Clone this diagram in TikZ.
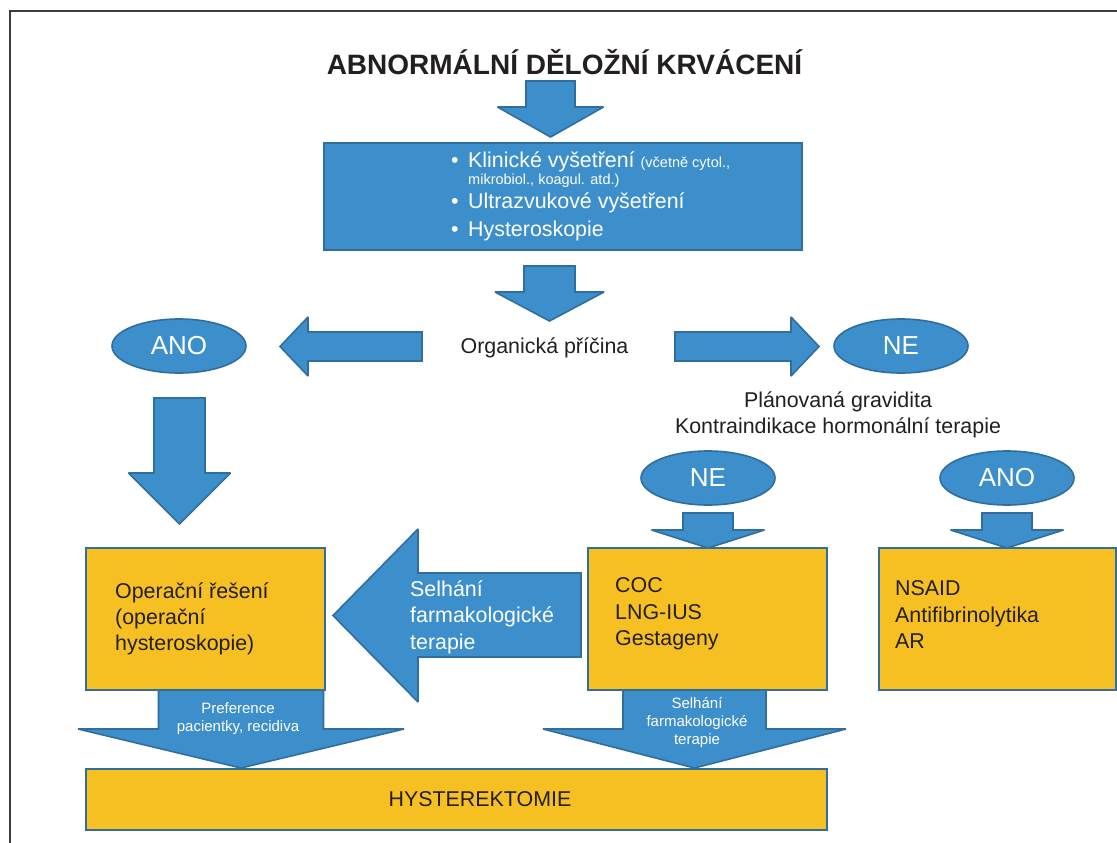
\documentclass[tikz,border=0pt]{standalone}
\usepackage{fontspec}
\setmainfont{Liberation Sans}
\usetikzlibrary{shapes.geometric}
\definecolor{bfill}{HTML}{3D8FCB}
\definecolor{bline}{HTML}{2F6E9E}
\definecolor{yfill}{HTML}{F6C022}
\definecolor{ink}{HTML}{231F20}
\definecolor{framec}{HTML}{3C3C3C}
\newcommand{\myfs}[2]{\fontsize{#1}{#2}\selectfont}
\newcommand{\blkdown}[6]{% cx, top, heady, tipy, shafthalf, headhalf
  \draw[blockarrow] ({#1-#5},#2) -- ({#1+#5},#2) -- ({#1+#5},#3) -- ({#1+#6},#3)
    -- (#1,#4) -- ({#1-#6},#3) -- ({#1-#5},#3) -- cycle;}
\begin{document}
\begin{tikzpicture}[x=1pt,y=-1pt,
  blockarrow/.style={fill=bfill,draw=bline,line width=1.6pt,line join=miter,miter limit=2},
  bluebox/.style={rectangle,fill=bfill,draw=bline,line width=2pt,inner sep=0pt},
  yellowbox/.style={rectangle,fill=yfill,draw=bline,line width=2pt,inner sep=0pt},
  oval/.style={ellipse,fill=bfill,draw=bline,line width=1.6pt,minimum width=134pt,
    minimum height=54pt,inner sep=0pt,text=white,font=\myfs{26}{30}},
  lbl/.style={text=ink,font=\myfs{21.4}{26},inner sep=0pt},
  wlbl/.style={text=white,font=\myfs{21.4}{26},inner sep=0pt},
  slbl/.style={text=white,font=\myfs{15}{18},inner sep=0pt}]
\useasboundingbox (0,0) rectangle (1117,843);
\fill[white] (0,0) rectangle (1117,843);
% frame
\draw[framec,line width=2pt] (10,843) -- (10,11) -- (1117,11);

% block arrows
\blkdown{550.5}{81}{107}{137}{24.5}{53}
\blkdown{549.5}{266}{292}{321}{25.5}{54.5}
\blkdown{179.5}{398}{473}{524}{25.5}{51}
\blkdown{708}{513}{530}{548}{25}{56.5}
\blkdown{1007}{513}{530}{548}{25}{56.5}
\blkdown{241}{690}{729}{768}{82.5}{163}
\blkdown{694.5}{690}{729}{768}{71.5}{151.5}
\draw[blockarrow] (422,332) -- (308,332) -- (308,317) -- (280,346.5) -- (308,376) -- (308,361) -- (422,361) -- cycle;
\draw[blockarrow] (675,332) -- (791,332) -- (791,317) -- (819,346.5) -- (791,376) -- (791,361) -- (675,361) -- cycle;
\draw[blockarrow] (581,573) -- (418,573) -- (418,529) -- (333,615.5) -- (418,702) -- (418,657) -- (581,657) -- cycle;

% title
\node[text=ink,font=\myfs{28}{34}\bfseries,inner sep=0pt,anchor=base] (title) at (564.5,75) {ABNORMÁLNÍ DĚLOŽNÍ KRVÁCENÍ};

% examination box
\node[bluebox,minimum width=478pt,minimum height=107pt] (exam) at (563,196.5) {};
\node[wlbl,anchor=base west] (ex1) at (451,167) {\makebox[17pt][l]{•}Klinické vyšetření {\myfs{14.5}{17}(včetně cytol.,}};
\node[wlbl,anchor=base west,font=\myfs{14.5}{17}] (ex1b) at (468,184) {mikrobiol., koagul. atd.)};
\node[wlbl,anchor=base west] (ex2) at (451,208) {\makebox[17pt][l]{•}Ultrazvukové vyšetření};
\node[wlbl,anchor=base west] (ex3) at (451,236) {\makebox[17pt][l]{•}Hysteroskopie};

% decision
\node[lbl,anchor=base] (org) at (544.5,353) {Organická příčina};
\node[oval] (ano1) at (179,346) {ANO};
\node[oval] (ne1) at (901,346) {NE};
\node[lbl,anchor=base] (plan1) at (838,407) {Plánovaná gravidita};
\node[lbl,anchor=base] (plan2) at (838,433) {Kontraindikace hormonální terapie};
\node[oval] (ne2) at (708,478) {NE};
\node[oval] (ano2) at (1007,478) {ANO};

% yellow boxes
\node[yellowbox,minimum width=239pt,minimum height=142pt] (oper) at (205.5,619) {};
\node[lbl,anchor=base west] (op1) at (115,598) {Operační řešení};
\node[lbl,anchor=base west] (op2) at (115,624) {(operační};
\node[lbl,anchor=base west] (op3) at (115,650) {hysteroskopie)};

\node[yellowbox,minimum width=239pt,minimum height=142pt] (coc) at (707.5,619) {};
\node[lbl,anchor=base west] (c1) at (615,592.5) {COC};
\node[lbl,anchor=base west] (c2) at (615,619) {LNG-IUS};
\node[lbl,anchor=base west] (c3) at (615,645.5) {Gestageny};

\node[yellowbox,minimum width=237pt,minimum height=142pt] (nsaid) at (997.5,619) {};
\node[lbl,anchor=base west] (n1) at (895,595.5) {NSAID};
\node[lbl,anchor=base west] (n2) at (895,622) {Antifibrinolytika};
\node[lbl,anchor=base west] (n3) at (895,648.5) {AR};

\node[yellowbox,minimum width=741pt,minimum height=61pt] (hyst) at (456.5,799.5) {};
\node[lbl,anchor=base] (hy) at (480,806) {HYSTEREKTOMIE};

% arrow labels
\node[wlbl,anchor=base west] (s1) at (410,596) {Selhání};
\node[wlbl,anchor=base west] (s2) at (410,622.5) {farmakologické};
\node[wlbl,anchor=base west] (s3) at (410,649) {terapie};

\node[slbl,anchor=base] (p1) at (238,713) {Preference};
\node[slbl,anchor=base] (p2) at (238,731) {pacientky, recidiva};

\node[slbl,anchor=base] (f1) at (697,708) {Selhání};
\node[slbl,anchor=base] (f2) at (697,726) {farmakologické};
\node[slbl,anchor=base] (f3) at (697,744) {terapie};
\end{tikzpicture}
\end{document}
